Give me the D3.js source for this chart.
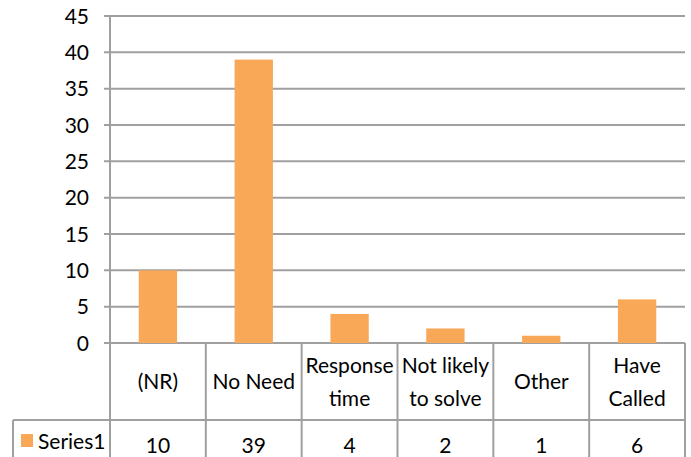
<!DOCTYPE html>
<html>
<head>
<meta charset="utf-8">
<script src="https://cdn.jsdelivr.net/npm/d3@7"></script>
<style>
  body { margin: 0; background: #fff; }
  svg text { font-family: Lato, "Liberation Sans", sans-serif; font-size: 21px; fill: #000; }
</style>
</head>
<body>
<svg id="chart" width="691" height="457"></svg>
<script>
var categories = [["(NR)"], ["No Need"], ["Response", "time"], ["Not likely", "to solve"], ["Other"], ["Have", "Called"]];
var values = [10, 39, 4, 2, 1, 6];
var seriesName = "Series1";
var yTicks = [0, 5, 10, 15, 20, 25, 30, 35, 40, 45];

var plotLeft = 110, plotRight = 685, plotTop = 16, plotBottom = 343,
	tableMid = 420, tableBottom = 470, tableLeft = 13,
	gridColor = "#a0a0a0", barColor = "#f9a857";

var svg = d3.select("#chart");

var x = d3.scaleBand()
	.domain(d3.range(categories.length))
	.range([plotLeft, plotRight])
	.paddingInner(0)
	.paddingOuter(0);

var y = d3.scaleLinear().domain([0, 45]).range([plotBottom, plotTop]);

// gridlines + tick stubs
svg.append("g").selectAll("line")
	.data(yTicks)
	.enter().append("line")
	.attr("x1", plotLeft - 6).attr("x2", plotRight)
	.attr("y1", function(d) { return y(d); })
	.attr("y2", function(d) { return y(d); })
	.attr("stroke", gridColor).attr("stroke-width", 2);

svg.append("g").selectAll("text")
	.data(yTicks)
	.enter().append("text")
	.attr("x", plotLeft - 21)
	.attr("y", function(d) { return y(d); })
	.attr("dy", "0.36em")
	.attr("text-anchor", "end")
	.text(function(d) { return d; });

// bars
var bw = x.bandwidth() * 0.4;
svg.append("g").selectAll("rect")
	.data(values)
	.enter().append("rect")
	.attr("x", function(d, i) { return x(i) + (x.bandwidth() - bw) / 2; })
	.attr("y", function(d) { return y(d); })
	.attr("width", bw)
	.attr("height", function(d) { return y(0) - y(d); })
	.attr("fill", barColor);

// axis line
svg.append("line")
	.attr("x1", plotLeft).attr("x2", plotLeft)
	.attr("y1", plotTop).attr("y2", tableBottom)
	.attr("stroke", gridColor).attr("stroke-width", 2);

// data table
var table = svg.append("g");
table.selectAll("line.sep")
	.data(d3.range(1, categories.length + 1))
	.enter().append("line")
	.attr("class", "sep")
	.attr("x1", function(i) { return x(i - 1) + x.bandwidth(); })
	.attr("x2", function(i) { return x(i - 1) + x.bandwidth(); })
	.attr("y1", plotBottom).attr("y2", tableBottom)
	.attr("stroke", gridColor).attr("stroke-width", 2);

table.append("line")
	.attr("x1", tableLeft).attr("x2", plotRight)
	.attr("y1", tableMid).attr("y2", tableMid)
	.attr("stroke", gridColor).attr("stroke-width", 2);

table.append("line")
	.attr("x1", tableLeft).attr("x2", tableLeft)
	.attr("y1", tableMid).attr("y2", tableBottom)
	.attr("stroke", gridColor).attr("stroke-width", 2);

// category labels
var labelMid = (plotBottom + tableMid) / 2;
table.selectAll("text.cat")
	.data(categories)
	.enter().append("text")
	.attr("class", "cat")
	.attr("text-anchor", "middle")
	.each(function(lines, i) {
		var t = d3.select(this);
		var lh = 33;
		lines.forEach(function(s, k) {
			t.append("tspan")
				.attr("x", x(i) + x.bandwidth() / 2)
				.attr("y", labelMid + (k - (lines.length - 1) / 2) * lh)
				.attr("dy", "0.36em")
				.text(s);
		});
	});

// values row
var valueY = 445;
table.selectAll("text.val")
	.data(values)
	.enter().append("text")
	.attr("class", "val")
	.attr("x", function(d, i) { return x(i) + x.bandwidth() / 2; })
	.attr("y", valueY)
	.attr("dy", "0.36em")
	.attr("text-anchor", "middle")
	.text(function(d) { return d; });

// legend key
table.append("rect")
	.attr("x", 21).attr("y", 434)
	.attr("width", 12).attr("height", 13)
	.attr("fill", barColor);
table.append("text")
	.attr("x", 38).attr("y", 441)
	.attr("dy", "0.36em")
	.text(seriesName);
</script>
</body>
</html>
